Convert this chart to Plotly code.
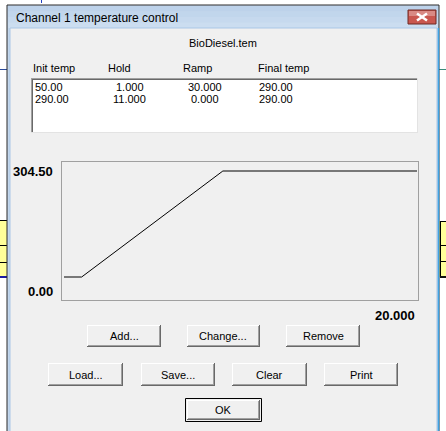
import plotly.graph_objects as go

# ---------------- data ----------------
init_temp = [50.00, 290.00]
hold = [1.000, 11.000]
ramp = [30.000, 0.000]
final_temp = [290.00, 290.00]
headers = ["Init temp", "Hold", "Ramp", "Final temp"]
y_max = 304.50
y_min = 0.00
x_max = 20.000
file_name = "BioDiesel.tem"
window_title = "Channel 1 temperature control"
buttons_row1 = ["Add...", "Change...", "Remove"]
buttons_row2 = ["Load...", "Save...", "Clear", "Print"]
button_ok = "OK"

# temperature program -> time/temperature points
times = [0.0]
temps = [init_temp[0]]
t = 0.0
for i in range(len(init_temp)):
    t += hold[i]
    times.append(t)
    temps.append(init_temp[i])
    if ramp[i] > 0:
        t += (final_temp[i] - init_temp[i]) / ramp[i]
        times.append(t)
        temps.append(final_temp[i])

# ---------------- layout helpers ----------------
W, H = 446, 431
FONT = "Liberation Sans, Arial, sans-serif"


def X(px):
    return px / W


def Y(py):
    return 1 - py / H


shapes = []
annotations = []


def rect(x0, y0, x1, y1, fill, line=None, lw=0):
    shapes.append(dict(type="rect", xref="paper", yref="paper",
                       x0=X(x0), x1=X(x1), y0=Y(y1), y1=Y(y0),
                       fillcolor=fill, line=dict(width=lw, color=line or fill),
                       layer="below"))


def seg(x0, y0, x1, y1, color, lw=1):
    shapes.append(dict(type="line", xref="paper", yref="paper",
                       x0=X(x0), x1=X(x1), y0=Y(y0), y1=Y(y1),
                       line=dict(width=lw, color=color), layer="below"))


def text(x, y, s, size=11, anchor="left", bold=False, color="black"):
    annotations.append(dict(xref="paper", yref="paper", x=X(x), y=Y(y),
                            text=("<b>%s</b>" % s) if bold else s,
                            showarrow=False, xanchor=anchor, yanchor="middle",
                            font=dict(family=FONT, size=size, color=color)))


def button(x0, y0, x1, y1, label, default=False):
    rect(x0, y0, x1, y1, "#f0f0f0")
    if default:
        rect(x0 - 0.5, y0 - 0.5, x1 + 0.5, y1 + 0.5, "rgba(0,0,0,0)", "#000000", 1)
        x0 += 1; y0 += 1; x1 -= 1; y1 -= 1
    seg(x0, y0 + 0.5, x1, y0 + 0.5, "#ffffff")
    seg(x0 + 0.5, y0, x0 + 0.5, y1, "#ffffff")
    seg(x0, y1 - 0.5, x1, y1 - 0.5, "#696969")
    seg(x1 - 0.5, y0, x1 - 0.5, y1, "#696969")
    seg(x0 + 1, y1 - 1.5, x1 - 1, y1 - 1.5, "#a0a0a0")
    seg(x1 - 1.5, y0 + 1, x1 - 1.5, y1 - 1, "#a0a0a0")
    text((x0 + x1) / 2, (y0 + y1) / 2, label, size=11, anchor="center")


# ---------------- background (outside dialog) ----------------
rect(0, 220, 7, 277, "#ffff99")
for yy in (220.5, 245.5, 262.5):
    seg(0, yy, 7, yy, "#000000")
seg(0, 277, 7, 277, "#1a1aa0", 2)
rect(439, 221, 446, 277, "#ffff99")
seg(440.5, 221, 440.5, 277, "#000000")
for yy in (221.5, 245.5, 261.5):
    seg(440, yy, 446, yy, "#000000")
seg(440, 277, 446, 277, "#101010", 2)
seg(0, 69.5, 7, 69.5, "#2a4a9a")
seg(439, 69.5, 446, 69.5, "#3a8a7a")
seg(41.5, 0, 41.5, 3, "#2040c0")

# ---------------- window frame ----------------
rect(7, 5, 439, 440, "#c4d7ec", "#2b2b2b", 1)
bands = ["#bdd2ea", "#c1d6ec", "#c6d9ee", "#cbddf0"]
for i, c in enumerate(bands):
    rect(8, 6 + i * 5.5, 438, 6 + (i + 1) * 5.5, c)
rect(10, 28, 437, 440, "#f0f0f0", "#a9c6e6", 1)
seg(438.5, 28, 438.5, 431, "#3fa2e2", 1.5)
text(14, 18, window_title, size=12)

# close button
rect(408, 10, 436, 24, "#c9574f", "#6e2a24", 1)
rect(409, 11, 435, 16, "#d98a84")
seg(417, 13.5, 427, 20.5, "#ffffff", 2.5)
seg(417, 20.5, 427, 13.5, "#ffffff", 2.5)

# file name
text(223, 43, file_name, size=11, anchor="center")

# list headers
hdr_x = [31, 106, 181, 256]
for hx, h in zip(hdr_x, headers):
    text(hx, 68, h, size=11)

# list box (sunken)
rect(31, 78, 418, 133, "#ffffff")
seg(31, 78.5, 418, 78.5, "#a0a0a0")
seg(31.5, 78, 31.5, 133, "#a0a0a0")
seg(32, 79.5, 417, 79.5, "#696969")
seg(32.5, 79, 32.5, 132, "#696969")
seg(31, 132.5, 418, 132.5, "#e3e3e3")
seg(417.5, 78, 417.5, 133, "#e3e3e3")

row_y = [87, 98.5]
for i in range(len(init_temp)):
    text(33, row_y[i], "%.2f" % init_temp[i])
    text(129.5, row_y[i], "%.3f" % hold[i], anchor="center")
    text(205, row_y[i], "%.3f" % ramp[i], anchor="center")
    text(257, row_y[i], "%.2f" % final_temp[i])

# axis extent labels
text(55, 172, "%.2f" % y_max, size=13, anchor="right", bold=True)
text(55, 291, "%.2f" % y_min, size=13, anchor="right", bold=True)
text(417, 315, "%.3f" % x_max, size=13, anchor="right", bold=True)

# buttons
row1_x = [(87, 161), (187, 260), (286, 360)]
for (a, b), lab in zip(row1_x, buttons_row1):
    button(a, 325, b, 347, lab)
row2_x = [(48, 123), (141, 215), (232, 307), (324, 398)]
for (a, b), lab in zip(row2_x, buttons_row2):
    button(a, 363, b, 386, lab)
button(186, 399, 261, 421, button_ok, default=True)

# ---------------- chart ----------------
px_left, px_right, px_top, px_bottom = 62, 418, 162, 300
x0_px, x20_px = 64, 417
xs = (x20_px - x0_px) / x_max
y0_px, y290_px = 299.1, 171.0
ys = (y0_px - y290_px) / 290.0
x_range = [(px_left - x0_px) / xs, (px_right - x0_px) / xs]
y_range = [(y0_px - px_bottom) / ys, (y0_px - px_top) / ys]

fig = go.Figure()
fig.add_trace(go.Scatter(x=times + [x_max], y=temps + [temps[-1]], mode="lines",
                         line=dict(color="black", width=1), hoverinfo="skip",
                         showlegend=False))
fig.update_layout(
    width=W, height=H, margin=dict(l=0, r=0, t=0, b=0),
    paper_bgcolor="#ffffff", plot_bgcolor="rgba(0,0,0,0)",
    shapes=shapes, annotations=annotations, showlegend=False,
    xaxis=dict(domain=[X(px_left), X(px_right)], range=x_range, showgrid=False,
               zeroline=False, showticklabels=False, ticks="", showline=True,
               mirror=True, linecolor="#a0a0a0", linewidth=1, fixedrange=True),
    yaxis=dict(domain=[Y(px_bottom), Y(px_top)], range=y_range, showgrid=False,
               zeroline=False, showticklabels=False, ticks="", showline=True,
               mirror=True, linecolor="#a0a0a0", linewidth=1, fixedrange=True),
)
fig.write_html("out.html", config={"displayModeBar": False},
               post_script="document.body.style.margin='0';document.body.style.overflow='hidden';")
